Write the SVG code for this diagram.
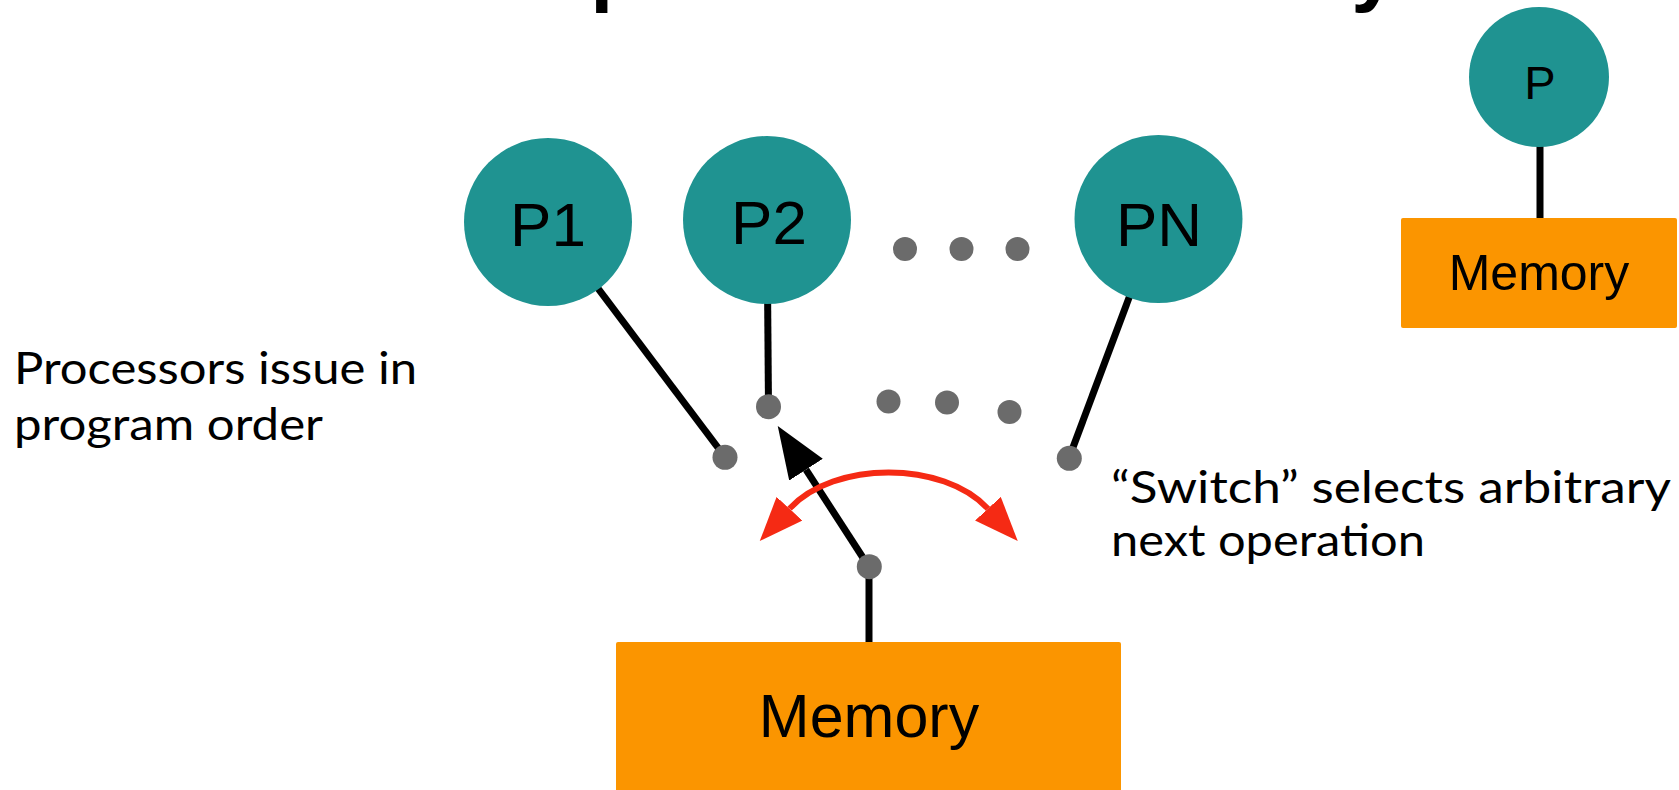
<svg xmlns="http://www.w3.org/2000/svg" width="1679" height="790" viewBox="0 0 1679 790">
  <style>
    .proc { fill: #1f9391; }
    .mem { fill: #fb9500; }
    .dot { fill: #6b6b6b; }
    .wire { stroke: #000; stroke-width: 7; fill: none; }
    .swing { stroke: #f52a14; stroke-width: 6; fill: none; }
    .lbl { font-family: "Liberation Sans", Arial, sans-serif; fill: #000; text-anchor: middle; }
    .note { font-family: Lato, "Open Sans", sans-serif; font-size: 44px; fill: #000; }
    .title { font-family: "Liberation Sans", Arial, sans-serif; font-weight: bold; font-size: 83px; fill: #000; }
  </style>
  <defs>
    <marker id="blackHead" markerUnits="userSpaceOnUse" markerWidth="52" markerHeight="40" refX="0" refY="20" orient="auto" viewBox="0 0 52 40">
      <path d="M0,0 L52,20 L0,40 z" fill="#000"/>
    </marker>
    <marker id="redHead" markerUnits="userSpaceOnUse" markerWidth="44" markerHeight="35" refX="0" refY="17.5" orient="auto-start-reverse" viewBox="0 0 44 35">
      <path d="M0,0 L44,17.5 L0,35 z" fill="#f52a14"/>
    </marker>
  </defs>

  <text id="title" class="title" x="461" y="-4">Sequential Consistency</text>

  <g id="connectors">
    <line class="wire" x1="548" y1="222" x2="725" y2="457"/>
    <line class="wire" x1="767" y1="220" x2="768.5" y2="407"/>
    <line class="wire" x1="1158.5" y1="219" x2="1069" y2="458"/>
    <line class="wire" x1="869" y1="567" x2="869" y2="644"/>
    <line class="wire" x1="869" y1="567" x2="806" y2="469.7" marker-end="url(#blackHead)"/>
    <line class="wire" x1="1540" y1="77" x2="1540" y2="219" stroke-width="6.5" stroke-linecap="round"/>
    <path class="swing" d="M789.5,508.7 C833.9,460.4 943.3,460.4 987.9,508.7" marker-start="url(#redHead)" marker-end="url(#redHead)"/>
  </g>

  <g id="p1">
    <circle class="proc" cx="548" cy="222" r="84"/>
    <text class="lbl" x="548" y="246" font-size="62">P1</text>
  </g>
  <g id="p2">
    <circle class="proc" cx="767" cy="220" r="84"/>
    <text class="lbl" x="769" y="244" font-size="62">P2</text>
  </g>
  <g id="pn">
    <circle class="proc" cx="1158.5" cy="219" r="84"/>
    <text class="lbl" x="1159" y="246" font-size="62">PN</text>
  </g>
  <g id="ellipsis-top">
    <circle class="dot" cx="905" cy="249" r="12"/>
    <circle class="dot" cx="961.5" cy="249" r="12"/>
    <circle class="dot" cx="1017.5" cy="249" r="12"/>
  </g>
  <g id="ellipsis-mid">
    <circle class="dot" cx="888.5" cy="401.5" r="12"/>
    <circle class="dot" cx="947" cy="402.5" r="12"/>
    <circle class="dot" cx="1009.5" cy="412" r="12"/>
  </g>
  <g id="port-p1"><circle class="dot" cx="725" cy="457.3" r="12.5"/></g>
  <g id="port-p2"><circle class="dot" cx="768.5" cy="406.7" r="12.5"/></g>
  <g id="port-pn"><circle class="dot" cx="1069.3" cy="458.3" r="12.5"/></g>
  <g id="switch"><circle class="dot" cx="869.3" cy="566.7" r="12.5"/></g>

  <g id="memory">
    <rect class="mem" x="616" y="642" width="505" height="160" rx="2"/>
    <text class="lbl" x="869" y="737" font-size="61">Memory</text>
  </g>

  <g id="p-single">
    <circle class="proc" cx="1539" cy="77" r="70"/>
    <text class="lbl" x="1540" y="99" font-size="47">P</text>
  </g>
  <g id="memory-single">
    <rect class="mem" x="1401" y="218" width="276" height="110" rx="2"/>
    <text class="lbl" x="1539" y="290" font-size="50">Memory</text>
  </g>

  <g id="note-left">
    <text class="note" x="14" y="384" textLength="403" lengthAdjust="spacingAndGlyphs">Processors issue in</text>
    <text class="note" x="14" y="440" textLength="309" lengthAdjust="spacingAndGlyphs">program order</text>
  </g>
  <g id="note-right">
    <text class="note" x="1111" y="503" textLength="560" lengthAdjust="spacingAndGlyphs">“Switch” selects arbitrary</text>
    <text class="note" x="1111" y="556" textLength="314" lengthAdjust="spacingAndGlyphs">next operation</text>
  </g>
</svg>
